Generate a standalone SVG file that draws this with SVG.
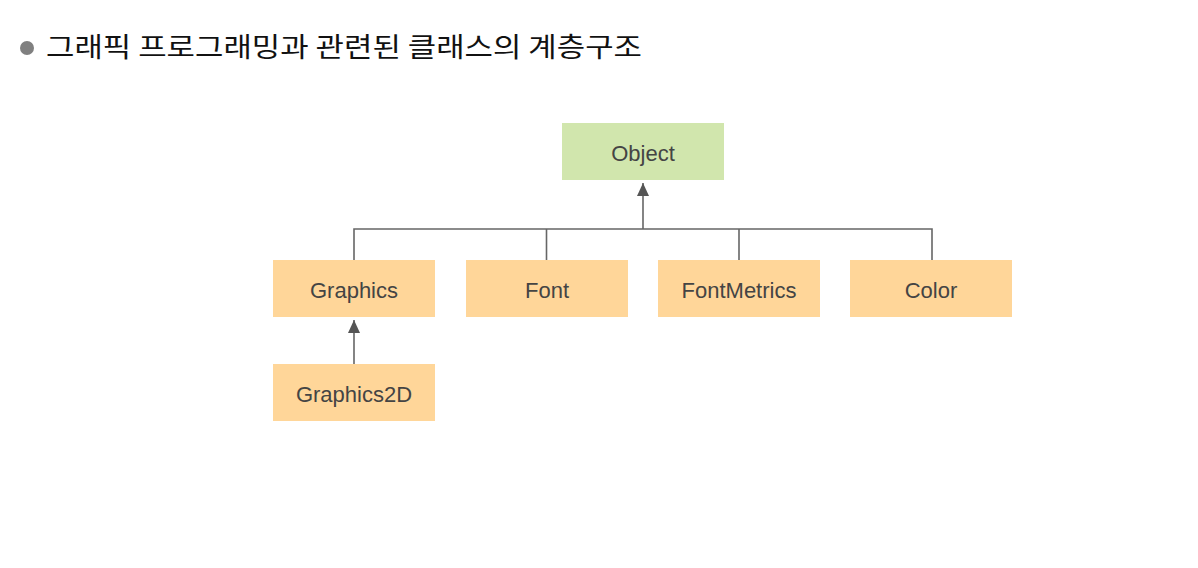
<svg xmlns="http://www.w3.org/2000/svg" width="1198" height="568" viewBox="0 0 1198 568">
<defs>
<style>
.node rect{fill:#ffd699}
.root rect{fill:#d1e6ad}
.lbl{font-family:"Liberation Sans",Arial,sans-serif;font-size:22px;fill:#444;text-anchor:middle}
.conn{stroke:#666;stroke-width:1.6;fill:none}
.title{font-family:"Noto Sans CJK KR","Noto Sans",sans-serif;font-size:27px;fill:#111}
</style>
<marker id="arr" viewBox="0 0 13 12" refX="13" refY="6" markerWidth="13" markerHeight="12" markerUnits="userSpaceOnUse" orient="auto">
<path d="M0,0 L13,6 L0,12 Z" fill="#555"/>
</marker>
</defs>
<rect width="1198" height="568" fill="#fff"/>
<g id="title">
<circle cx="27" cy="48" r="7" fill="#808080"/>
<text class="title" x="46" y="57" textLength="596" lengthAdjust="spacingAndGlyphs">그래픽 프로그래밍과 관련된 클래스의 계층구조</text>
</g>
<g id="connectors">
<path class="conn" d="M643,229 L643,183" marker-end="url(#arr)"/>
<path class="conn" d="M354,260 L354,229 L932,229 L932,260"/>
<path class="conn" d="M546.5,229 L546.5,260"/>
<path class="conn" d="M739,229 L739,260"/>
<path class="conn" d="M354,364 L354,320" marker-end="url(#arr)"/>
</g>
<g id="Object" class="node root"><rect x="562" y="123" width="162" height="57"/><text class="lbl" x="643" y="161">Object</text></g>
<g id="Graphics" class="node"><rect x="273" y="260" width="162" height="57"/><text class="lbl" x="354" y="298">Graphics</text></g>
<g id="Font" class="node"><rect x="466" y="260" width="162" height="57"/><text class="lbl" x="547" y="298">Font</text></g>
<g id="FontMetrics" class="node"><rect x="658" y="260" width="162" height="57"/><text class="lbl" x="739" y="298">FontMetrics</text></g>
<g id="Color" class="node"><rect x="850" y="260" width="162" height="57"/><text class="lbl" x="931" y="298">Color</text></g>
<g id="Graphics2D" class="node"><rect x="273" y="364" width="162" height="57"/><text class="lbl" x="354" y="402">Graphics2D</text></g>
</svg>
